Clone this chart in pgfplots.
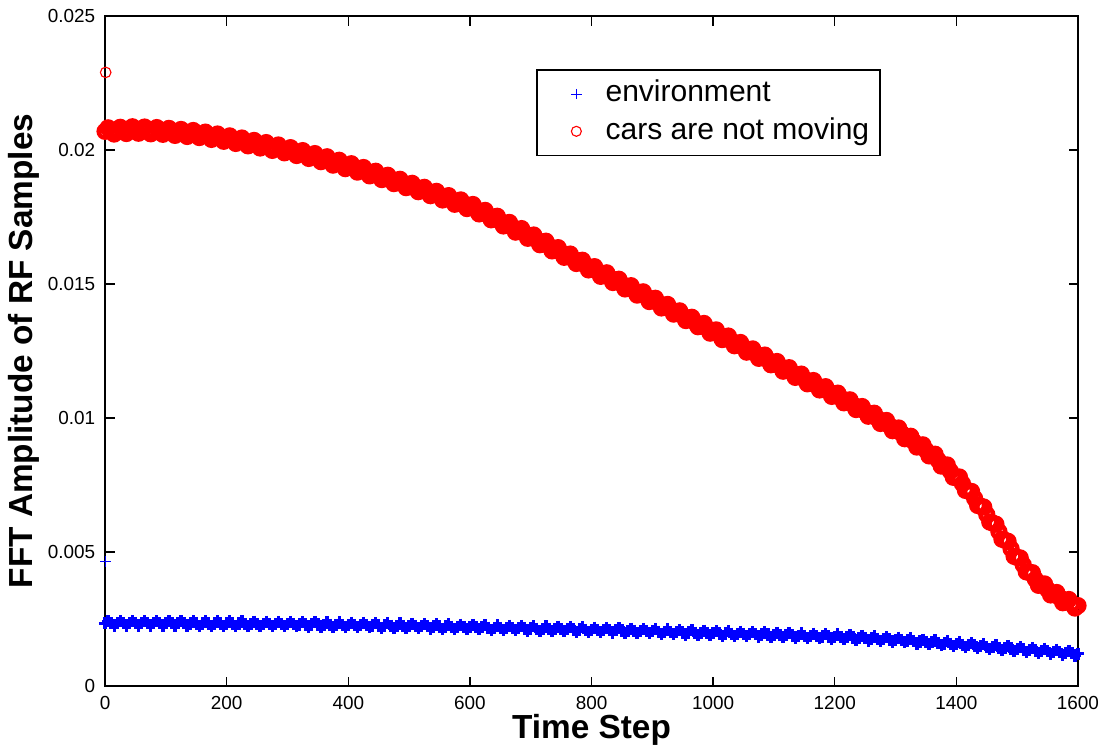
\documentclass[border=0pt]{standalone}
\usepackage{fontspec}
\setmainfont{Liberation Sans}
\usepackage{pgfplots}
\pgfplotsset{compat=1.18}
\usepackage{pgfplotstable}

% red band: "cars are not moving", every 10th step
\pgfplotstableread[row sep=\\]{
x y\\
0 0.02070\\ 10 0.02071\\ 20 0.02072\\ 30 0.02073\\ 40 0.02074\\ 50 0.02075\\ 60 0.02074\\ 70 0.02073\\ 80 0.02072\\ 90 0.02071\\
100 0.02070\\ 110 0.02068\\ 120 0.02066\\ 130 0.02064\\ 140 0.02062\\ 150 0.02060\\ 160 0.02057\\ 170 0.02053\\ 180 0.02050\\ 190 0.02046\\
200 0.02043\\ 210 0.02039\\ 220 0.02035\\ 230 0.02030\\ 240 0.02026\\ 250 0.02022\\ 260 0.02018\\ 270 0.02013\\ 280 0.02009\\ 290 0.02004\\
300 0.02000\\ 310 0.01994\\ 320 0.01989\\ 330 0.01983\\ 340 0.01978\\ 350 0.01972\\ 360 0.01966\\ 370 0.01959\\ 380 0.01953\\ 390 0.01946\\
400 0.01940\\ 410 0.01933\\ 420 0.01926\\ 430 0.01919\\ 440 0.01912\\ 450 0.01905\\ 460 0.01898\\ 470 0.01890\\ 480 0.01883\\ 490 0.01875\\
500 0.01868\\ 510 0.01860\\ 520 0.01853\\ 530 0.01845\\ 540 0.01838\\ 550 0.01830\\ 560 0.01822\\ 570 0.01814\\ 580 0.01806\\ 590 0.01798\\
600 0.01790\\ 610 0.01779\\ 620 0.01768\\ 630 0.01757\\ 640 0.01746\\ 650 0.01735\\ 660 0.01723\\ 670 0.01712\\ 680 0.01700\\ 690 0.01689\\
700 0.01677\\ 710 0.01665\\ 720 0.01653\\ 730 0.01642\\ 740 0.01630\\ 750 0.01618\\ 760 0.01606\\ 770 0.01594\\ 780 0.01583\\ 790 0.01571\\
800 0.01559\\ 810 0.01547\\ 820 0.01535\\ 830 0.01524\\ 840 0.01512\\ 850 0.01500\\ 860 0.01488\\ 870 0.01476\\ 880 0.01465\\ 890 0.01453\\
900 0.01441\\ 910 0.01429\\ 920 0.01417\\ 930 0.01406\\ 940 0.01394\\ 950 0.01382\\ 960 0.01370\\ 970 0.01358\\ 980 0.01347\\ 990 0.01335\\
1000 0.01323\\ 1010 0.01311\\ 1020 0.01299\\ 1030 0.01288\\ 1040 0.01276\\ 1050 0.01264\\ 1060 0.01252\\ 1070 0.01240\\ 1080 0.01229\\ 1090 0.01217\\
1100 0.01205\\ 1110 0.01193\\ 1120 0.01181\\ 1130 0.01170\\ 1140 0.01158\\ 1150 0.01146\\ 1160 0.01134\\ 1170 0.01122\\ 1180 0.01111\\ 1190 0.01099\\
1200 0.01087\\ 1210 0.01075\\ 1220 0.01062\\ 1230 0.01050\\ 1240 0.01037\\ 1250 0.01025\\ 1260 0.01012\\ 1270 0.00999\\ 1280 0.00985\\ 1290 0.00972\\
1300 0.00958\\ 1310 0.00943\\ 1320 0.00927\\ 1330 0.00912\\ 1340 0.00896\\ 1350 0.00880\\ 1360 0.00862\\ 1370 0.00843\\ 1380 0.00823\\ 1390 0.00802\\
1400 0.00780\\ 1410 0.00755\\ 1420 0.00728\\ 1430 0.00700\\ 1440 0.00671\\ 1450 0.00640\\ 1460 0.00608\\ 1470 0.00576\\ 1480 0.00544\\ 1490 0.00512\\
1500 0.00480\\ 1510 0.00452\\ 1520 0.00424\\ 1530 0.00398\\ 1540 0.00377\\ 1550 0.00360\\ 1560 0.00344\\ 1570 0.00330\\ 1580 0.00316\\ 1590 0.00306\\
1600 0.00300\\
}\carsdata

% red band, the steps in between (scatter above and below the trend)
\pgfplotstableread[row sep=\\]{
x y\\
5 0.02083\\ 15 0.02060\\ 25 0.02085\\ 35 0.02062\\ 45 0.02087\\ 55 0.02063\\ 65 0.02086\\ 75 0.02061\\ 85 0.02084\\ 95 0.02059\\
105 0.02081\\ 115 0.02055\\ 125 0.02077\\ 135 0.02051\\ 145 0.02073\\ 155 0.02047\\ 165 0.02067\\ 175 0.02040\\ 185 0.02060\\ 195 0.02033\\
205 0.02053\\ 215 0.02025\\ 225 0.02045\\ 235 0.02016\\ 245 0.02036\\ 255 0.02008\\ 265 0.02028\\ 275 0.01999\\ 285 0.02019\\ 295 0.01990\\
305 0.02009\\ 315 0.01980\\ 325 0.01998\\ 335 0.01969\\ 345 0.01987\\ 355 0.01957\\ 365 0.01975\\ 375 0.01944\\ 385 0.01962\\ 395 0.01931\\
405 0.01949\\ 415 0.01918\\ 425 0.01935\\ 435 0.01904\\ 445 0.01921\\ 455 0.01890\\ 465 0.01906\\ 475 0.01875\\ 485 0.01891\\ 495 0.01860\\
505 0.01876\\ 515 0.01845\\ 525 0.01861\\ 535 0.01830\\ 545 0.01846\\ 555 0.01814\\ 565 0.01830\\ 575 0.01798\\ 585 0.01814\\ 595 0.01782\\
605 0.01797\\ 615 0.01762\\ 625 0.01775\\ 635 0.01740\\ 645 0.01753\\ 655 0.01717\\ 665 0.01730\\ 675 0.01694\\ 685 0.01707\\ 695 0.01671\\
705 0.01683\\ 715 0.01647\\ 725 0.01660\\ 735 0.01624\\ 745 0.01636\\ 755 0.01600\\ 765 0.01612\\ 775 0.01577\\ 785 0.01589\\ 795 0.01553\\
805 0.01565\\ 815 0.01529\\ 825 0.01542\\ 835 0.01506\\ 845 0.01518\\ 855 0.01482\\ 865 0.01494\\ 875 0.01459\\ 885 0.01471\\ 895 0.01435\\
905 0.01447\\ 915 0.01411\\ 925 0.01424\\ 935 0.01388\\ 945 0.01400\\ 955 0.01364\\ 965 0.01376\\ 975 0.01341\\ 985 0.01353\\ 995 0.01317\\
1005 0.01329\\ 1015 0.01293\\ 1025 0.01306\\ 1035 0.01270\\ 1045 0.01282\\ 1055 0.01246\\ 1065 0.01258\\ 1075 0.01223\\ 1085 0.01235\\ 1095 0.01199\\
1105 0.01211\\ 1115 0.01175\\ 1125 0.01188\\ 1135 0.01152\\ 1145 0.01164\\ 1155 0.01128\\ 1165 0.01140\\ 1175 0.01105\\ 1185 0.01117\\ 1195 0.01081\\
1205 0.01093\\ 1215 0.01057\\ 1225 0.01068\\ 1235 0.01032\\ 1245 0.01043\\ 1255 0.01007\\ 1265 0.01018\\ 1275 0.00980\\ 1285 0.00991\\ 1295 0.00953\\
1305 0.00963\\ 1315 0.00923\\ 1325 0.00932\\ 1335 0.00892\\ 1345 0.00900\\ 1355 0.00859\\ 1365 0.00865\\ 1375 0.00821\\ 1385 0.00825\\ 1395 0.00779\\
1405 0.00780\\ 1415 0.00730\\ 1425 0.00726\\ 1435 0.00674\\ 1445 0.00668\\ 1455 0.00612\\ 1465 0.00604\\ 1475 0.00548\\ 1485 0.00540\\ 1495 0.00484\\
1505 0.00478\\ 1515 0.00426\\ 1525 0.00423\\ 1535 0.00376\\ 1545 0.00381\\ 1555 0.00340\\ 1565 0.00349\\ 1575 0.00311\\ 1585 0.00323\\ 1595 0.00291\\
}\carsdataodd

% blue band: "environment", every 10th step
\pgfplotstableread[row sep=\\]{
x y\\
0 0.00234\\ 10 0.00234\\ 20 0.00234\\ 30 0.00234\\ 40 0.00234\\ 50 0.00234\\ 60 0.00234\\ 70 0.00234\\ 80 0.00234\\ 90 0.00234\\
100 0.00234\\ 110 0.00234\\ 120 0.00234\\ 130 0.00234\\ 140 0.00233\\ 150 0.00233\\ 160 0.00233\\ 170 0.00233\\ 180 0.00233\\ 190 0.00233\\
200 0.00233\\ 210 0.00233\\ 220 0.00233\\ 230 0.00232\\ 240 0.00232\\ 250 0.00232\\ 260 0.00232\\ 270 0.00231\\ 280 0.00231\\ 290 0.00231\\
300 0.00231\\ 310 0.00231\\ 320 0.00230\\ 330 0.00230\\ 340 0.00230\\ 350 0.00230\\ 360 0.00229\\ 370 0.00229\\ 380 0.00229\\ 390 0.00228\\
400 0.00228\\ 410 0.00228\\ 420 0.00227\\ 430 0.00227\\ 440 0.00226\\ 450 0.00226\\ 460 0.00226\\ 470 0.00225\\ 480 0.00225\\ 490 0.00224\\
500 0.00224\\ 510 0.00224\\ 520 0.00223\\ 530 0.00223\\ 540 0.00222\\ 550 0.00222\\ 560 0.00222\\ 570 0.00221\\ 580 0.00221\\ 590 0.00220\\
600 0.00220\\ 610 0.00220\\ 620 0.00219\\ 630 0.00218\\ 640 0.00218\\ 650 0.00217\\ 660 0.00217\\ 670 0.00216\\ 680 0.00216\\ 690 0.00215\\
700 0.00215\\ 710 0.00214\\ 720 0.00214\\ 730 0.00213\\ 740 0.00213\\ 750 0.00212\\ 760 0.00212\\ 770 0.00211\\ 780 0.00211\\ 790 0.00210\\
800 0.00210\\ 810 0.00209\\ 820 0.00209\\ 830 0.00208\\ 840 0.00208\\ 850 0.00207\\ 860 0.00206\\ 870 0.00206\\ 880 0.00205\\ 890 0.00205\\
900 0.00204\\ 910 0.00203\\ 920 0.00203\\ 930 0.00202\\ 940 0.00201\\ 950 0.00200\\ 960 0.00200\\ 970 0.00199\\ 980 0.00198\\ 990 0.00198\\
1000 0.00197\\ 1010 0.00196\\ 1020 0.00196\\ 1030 0.00195\\ 1040 0.00195\\ 1050 0.00194\\ 1060 0.00193\\ 1070 0.00193\\ 1080 0.00192\\ 1090 0.00192\\
1100 0.00191\\ 1110 0.00190\\ 1120 0.00190\\ 1130 0.00189\\ 1140 0.00188\\ 1150 0.00187\\ 1160 0.00187\\ 1170 0.00186\\ 1180 0.00185\\ 1190 0.00185\\
1200 0.00184\\ 1210 0.00183\\ 1220 0.00182\\ 1230 0.00181\\ 1240 0.00180\\ 1250 0.00178\\ 1260 0.00177\\ 1270 0.00176\\ 1280 0.00175\\ 1290 0.00174\\
1300 0.00173\\ 1310 0.00171\\ 1320 0.00170\\ 1330 0.00168\\ 1340 0.00166\\ 1350 0.00164\\ 1360 0.00163\\ 1370 0.00161\\ 1380 0.00159\\ 1390 0.00158\\
1400 0.00156\\ 1410 0.00154\\ 1420 0.00152\\ 1430 0.00151\\ 1440 0.00149\\ 1450 0.00147\\ 1460 0.00145\\ 1470 0.00143\\ 1480 0.00142\\ 1490 0.00140\\
1500 0.00138\\ 1510 0.00136\\ 1520 0.00135\\ 1530 0.00133\\ 1540 0.00131\\ 1550 0.00130\\ 1560 0.00128\\ 1570 0.00126\\ 1580 0.00124\\ 1590 0.00123\\
1600 0.00121\\
}\envdata

% blue band, the steps in between
\pgfplotstableread[row sep=\\]{
x y\\
5 0.00242\\ 15 0.00226\\ 25 0.00242\\ 35 0.00226\\ 45 0.00242\\ 55 0.00226\\ 65 0.00242\\ 75 0.00226\\ 85 0.00242\\ 95 0.00226\\
105 0.00242\\ 115 0.00226\\ 125 0.00242\\ 135 0.00226\\ 145 0.00241\\ 155 0.00225\\ 165 0.00241\\ 175 0.00225\\ 185 0.00241\\ 195 0.00225\\
205 0.00241\\ 215 0.00225\\ 225 0.00241\\ 235 0.00224\\ 245 0.00240\\ 255 0.00224\\ 265 0.00240\\ 275 0.00223\\ 285 0.00239\\ 295 0.00223\\
305 0.00239\\ 315 0.00223\\ 325 0.00238\\ 335 0.00222\\ 345 0.00238\\ 355 0.00222\\ 365 0.00237\\ 375 0.00221\\ 385 0.00237\\ 395 0.00220\\
405 0.00236\\ 415 0.00220\\ 425 0.00235\\ 435 0.00219\\ 445 0.00234\\ 455 0.00218\\ 465 0.00234\\ 475 0.00217\\ 485 0.00233\\ 495 0.00216\\
505 0.00232\\ 515 0.00216\\ 525 0.00231\\ 535 0.00215\\ 545 0.00230\\ 555 0.00214\\ 565 0.00230\\ 575 0.00213\\ 585 0.00229\\ 595 0.00212\\
605 0.00228\\ 615 0.00212\\ 625 0.00227\\ 635 0.00210\\ 645 0.00226\\ 655 0.00209\\ 665 0.00225\\ 675 0.00208\\ 685 0.00224\\ 695 0.00207\\
705 0.00223\\ 715 0.00206\\ 725 0.00222\\ 735 0.00205\\ 745 0.00221\\ 755 0.00204\\ 765 0.00220\\ 775 0.00203\\ 785 0.00219\\ 795 0.00202\\
805 0.00218\\ 815 0.00201\\ 825 0.00217\\ 835 0.00200\\ 845 0.00216\\ 855 0.00199\\ 865 0.00214\\ 875 0.00198\\ 885 0.00213\\ 895 0.00197\\
905 0.00212\\ 915 0.00195\\ 925 0.00211\\ 935 0.00194\\ 945 0.00209\\ 955 0.00192\\ 965 0.00208\\ 975 0.00191\\ 985 0.00206\\ 995 0.00190\\
1005 0.00205\\ 1015 0.00188\\ 1025 0.00204\\ 1035 0.00187\\ 1045 0.00203\\ 1055 0.00186\\ 1065 0.00201\\ 1075 0.00185\\ 1085 0.00200\\ 1095 0.00184\\
1105 0.00199\\ 1115 0.00182\\ 1125 0.00198\\ 1135 0.00181\\ 1145 0.00196\\ 1155 0.00179\\ 1165 0.00195\\ 1175 0.00178\\ 1185 0.00193\\ 1195 0.00177\\
1205 0.00192\\ 1215 0.00175\\ 1225 0.00190\\ 1235 0.00173\\ 1245 0.00187\\ 1255 0.00170\\ 1265 0.00185\\ 1275 0.00168\\ 1285 0.00183\\ 1295 0.00166\\
1305 0.00180\\ 1315 0.00163\\ 1325 0.00177\\ 1335 0.00159\\ 1345 0.00173\\ 1355 0.00156\\ 1365 0.00170\\ 1375 0.00152\\ 1385 0.00167\\ 1395 0.00149\\
1405 0.00163\\ 1415 0.00145\\ 1425 0.00160\\ 1435 0.00142\\ 1445 0.00156\\ 1455 0.00138\\ 1465 0.00152\\ 1475 0.00135\\ 1485 0.00149\\ 1495 0.00131\\
1505 0.00145\\ 1515 0.00128\\ 1525 0.00142\\ 1535 0.00124\\ 1545 0.00139\\ 1555 0.00121\\ 1565 0.00135\\ 1575 0.00117\\ 1585 0.00132\\ 1595 0.00114\\
}\envdataodd

\begin{document}
\begin{tikzpicture}
\begin{axis}[
  scale only axis, width=350pt, height=241pt,
  xmin=0, xmax=1600, ymin=0, ymax=0.025,
  xtick={0,200,...,1600},
  ytick={0,0.005,0.01,0.015,0.02,0.025},
  yticklabels={0,0.005,0.01,0.015,0.02,0.025},
  scaled y ticks=false,
  xticklabel style={/pgf/number format/1000 sep={}},
  tick align=inside, tickpos=both, major tick length=3.4pt,
  axis line style={line width=0.6pt}, every tick/.style={black, line width=0.5pt},
  tick label style={font=\fontsize{6.8}{8}\selectfont},
  /pgf/number format/assume math mode=true,
  xlabel={\bfseries Time Step},
  ylabel={\bfseries FFT Amplitude of RF Samples},
  label style={font=\fontsize{12}{14}\selectfont},
  xlabel style={at={(axis description cs:0.5,-0.066)}, anchor=center},
  ylabel style={at={(axis description cs:-0.083,0.5)}, anchor=center},
  clip=false,
  legend style={at={(0.443,0.921)}, anchor=north west, draw=black, line width=0.6pt,
    font=\fontsize{10.8}{13}\selectfont, inner xsep=2.5pt, inner ysep=2pt, row sep=0pt,
    nodes={inner sep=1.5pt, text height=8pt, text depth=2.4pt},
    cells={anchor=west}},
  legend image code/.code={%
    \draw[#1] plot coordinates {(0pt,0pt)};
    \path (-11.5pt,0pt) (8.8pt,0pt);},
]
\addplot[only marks, mark=+, color=blue, mark size=2.2pt, line width=1.2pt,
  legend image post style={mark size=1.9pt, line width=0.4pt}] table[x=x, y=y] {\envdata};
\addlegendentry{environment}
\addplot[only marks, mark=o, color=red, mark size=2.3pt, line width=1.6pt,
  legend image post style={mark size=1.8pt, line width=0.4pt}] table[x=x, y=y] {\carsdata};
\addlegendentry{cars are not moving}
\addplot[only marks, mark=+, color=blue, mark size=2.2pt, line width=1.2pt, forget plot]
  table[x=x, y=y] {\envdataodd};
\addplot[only marks, mark=o, color=red, mark size=2.3pt, line width=1.6pt, forget plot]
  table[x=x, y=y] {\carsdataodd};
% first samples stand apart from the bands
\addplot[only marks, mark=+, color=blue, mark size=1.9pt, line width=0.4pt, forget plot]
  coordinates {(1,0.00464)};
\addplot[only marks, mark=o, color=red, mark size=1.9pt, line width=0.4pt, forget plot]
  coordinates {(1,0.0229)};
\coordinate (sw) at (rel axis cs:0,0);
\coordinate (ne) at (rel axis cs:1,1);
\end{axis}
\pgfresetboundingbox
\path ([shift={(-37.8pt,-23.8pt)}]sw) rectangle ([shift={(9pt,5.8pt)}]ne);
\end{tikzpicture}
\end{document}
